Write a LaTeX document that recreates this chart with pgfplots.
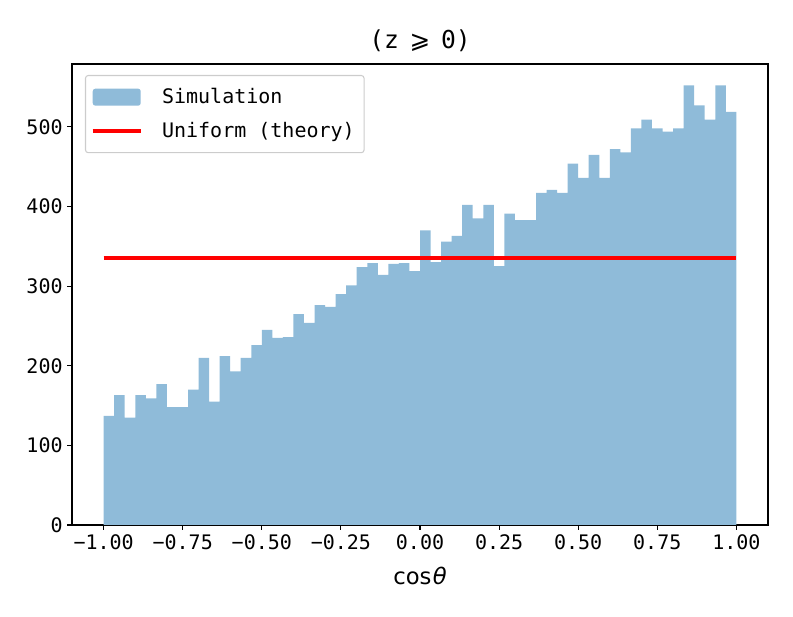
\documentclass[border=0pt]{standalone}
\usepackage{fontspec}
\usepackage{pgfplots}
\pgfplotsset{compat=1.18}
\setmainfont{DejaVu Sans Mono}
\newfontfamily\dvs{DejaVu Sans}
\definecolor{barblue}{RGB}{143,187,217}
\definecolor{legframe}{RGB}{204,204,204}
\begin{document}
\begin{tikzpicture}[font=\fontsize{15}{18}\selectfont]
\useasboundingbox (-54pt,-69pt) rectangle (540.75pt,393.75pt);
\begin{axis}[
  at={(0,0)}, anchor=south west,
  scale only axis, width=522pt, height=345.75pt,
  xmin=-1.1, xmax=1.1, ymin=0, ymax=579,
  axis line style={line width=0.8pt},
  tick align=outside, xtick pos=bottom, ytick pos=left,
  major tick length=3.5pt,
  every tick/.style={black, line width=0.8pt},
  xtick={-1,-0.75,-0.5,-0.25,0,0.25,0.5,0.75,1},
  xticklabels={−1.00,−0.75,−0.50,−0.25,0.00,0.25,0.50,0.75,1.00},
  ytick={0,100,200,300,400,500},
  yticklabels={0,100,200,300,400,500},
  title={(z\hspace{8pt}{\dvs ⩾}\hspace{8pt}0)},
  title style={font=\fontsize{18.5}{22}\selectfont, yshift=0pt},
  xlabel={{\dvs cos\hspace{1pt}\itshape θ}},
  xlabel style={font=\fontsize{17}{20}\selectfont, yshift=-6pt},
  legend cell align=left,
  legend style={at={(rel axis cs:0,1)}, anchor=north west, xshift=9.75pt, yshift=-8.25pt,
    draw=legframe, rounded corners=2pt, line width=0.8pt,
    inner xsep=4pt, inner ysep=6.5pt, row sep=6pt,
    nodes={inner sep=3pt, text depth=0.2em}},
]
\addplot[ybar interval, fill=barblue, draw=none, area legend,
  legend image code/.code={\fill[barblue] (0pt,-6.4pt) rectangle (36pt,6.4pt);
    \path[draw=none,fill=none] (0pt,0pt) -- (49pt,0pt);}]
coordinates {
(-1.0000,137) (-0.9667,163) (-0.9333,135) (-0.9000,163) (-0.8667,159)
(-0.8333,177) (-0.8000,148) (-0.7667,148) (-0.7333,170) (-0.7000,210)
(-0.6667,155) (-0.6333,212) (-0.6000,193) (-0.5667,210) (-0.5333,226)
(-0.5000,245) (-0.4667,235) (-0.4333,236) (-0.4000,265) (-0.3667,254)
(-0.3333,276) (-0.3000,274) (-0.2667,290) (-0.2333,301) (-0.2000,324)
(-0.1667,329) (-0.1333,314) (-0.1000,328) (-0.0667,329) (-0.0333,319)
(0.0000,370) (0.0333,330) (0.0667,356) (0.1000,363) (0.1333,402)
(0.1667,385) (0.2000,402) (0.2333,325) (0.2667,391) (0.3000,383)
(0.3333,383) (0.3667,417) (0.4000,421) (0.4333,417) (0.4667,454)
(0.5000,436) (0.5333,465) (0.5667,436) (0.6000,472) (0.6333,468)
(0.6667,498) (0.7000,509) (0.7333,498) (0.7667,494) (0.8000,498)
(0.8333,552) (0.8667,527) (0.9000,509) (0.9333,552) (0.9667,519)
(1.0000,519)
};
\addlegendentry{Simulation}
\addplot[red, line width=2.8pt,
  legend image code/.code={\draw[red, line width=2.8pt] (0pt,0pt) -- (36pt,0pt);
    \path[draw=none,fill=none] (0pt,0pt) -- (49pt,0pt);}]
coordinates {(-1,335) (1,335)};
\addlegendentry{Uniform (theory)}
\end{axis}
\end{tikzpicture}
\end{document}
